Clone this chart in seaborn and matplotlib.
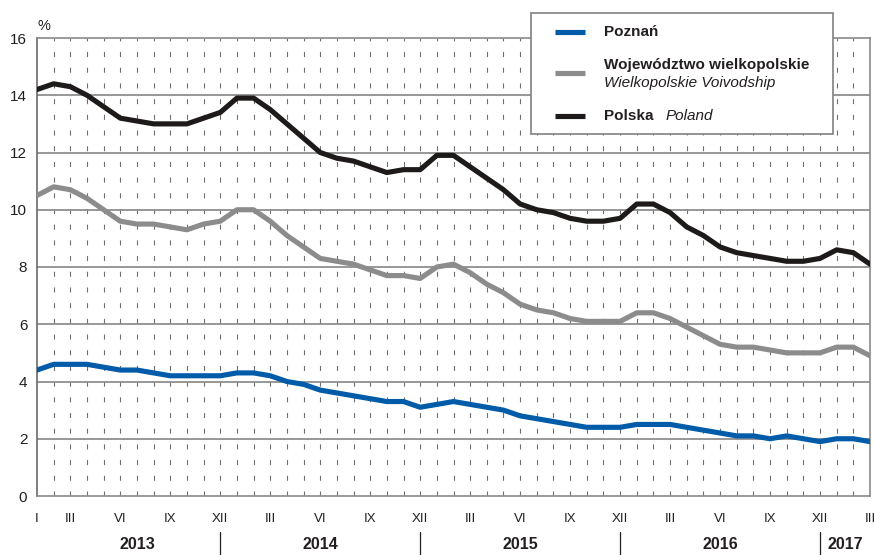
import numpy as np
import pandas as pd
import matplotlib
matplotlib.use("Agg")
import matplotlib.pyplot as plt
import matplotlib.transforms as mtransforms
from matplotlib.lines import Line2D
from matplotlib.patches import Rectangle
import seaborn as sns

# monthly values, I 2013 - III 2017 (%)
poznan = [4.4, 4.6, 4.6, 4.6, 4.5, 4.4, 4.4, 4.3, 4.2, 4.2, 4.2, 4.2,
          4.3, 4.3, 4.2, 4.0, 3.9, 3.7, 3.6, 3.5, 3.4, 3.3, 3.3, 3.1,
          3.2, 3.3, 3.2, 3.1, 3.0, 2.8, 2.7, 2.6, 2.5, 2.4, 2.4, 2.4,
          2.5, 2.5, 2.5, 2.4, 2.3, 2.2, 2.1, 2.1, 2.0, 2.1, 2.0, 1.9,
          2.0, 2.0, 1.9]
wielkopolskie = [10.5, 10.8, 10.7, 10.4, 10.0, 9.6, 9.5, 9.5, 9.4, 9.3, 9.5, 9.6,
                 10.0, 10.0, 9.6, 9.1, 8.7, 8.3, 8.2, 8.1, 7.9, 7.7, 7.7, 7.6,
                 8.0, 8.1, 7.8, 7.4, 7.1, 6.7, 6.5, 6.4, 6.2, 6.1, 6.1, 6.1,
                 6.4, 6.4, 6.2, 5.9, 5.6, 5.3, 5.2, 5.2, 5.1, 5.0, 5.0, 5.0,
                 5.2, 5.2, 4.9]
polska = [14.2, 14.4, 14.3, 14.0, 13.6, 13.2, 13.1, 13.0, 13.0, 13.0, 13.2, 13.4,
          13.9, 13.9, 13.5, 13.0, 12.5, 12.0, 11.8, 11.7, 11.5, 11.3, 11.4, 11.4,
          11.9, 11.9, 11.5, 11.1, 10.7, 10.2, 10.0, 9.9, 9.7, 9.6, 9.6, 9.7,
          10.2, 10.2, 9.9, 9.4, 9.1, 8.7, 8.5, 8.4, 8.3, 8.2, 8.2, 8.3,
          8.6, 8.5, 8.1]
years = ["2013", "2014", "2015", "2016", "2017"]
roman = ["I", "II", "III", "IV", "V", "VI", "VII", "VIII", "IX", "X", "XI", "XII"]

series_names = ["Poznań", "Województwo wielkopolskie", "Polska"]
colors = {"Poznań": "#005ba8", "Województwo wielkopolskie": "#8c8c8c", "Polska": "#1e1a1a"}

n = len(polska)
month = np.arange(n)
df = pd.concat([
    pd.DataFrame({"month": month, "value": poznan, "series": series_names[0]}),
    pd.DataFrame({"month": month, "value": wielkopolskie, "series": series_names[1]}),
    pd.DataFrame({"month": month, "value": polska, "series": series_names[2]}),
])

sns.set_style("white")
plt.rcParams["font.family"] = ["Liberation Sans Narrow", "Liberation Sans", "DejaVu Sans"]
plt.rcParams["lines.scale_dashes"] = False

W, H = 874, 555
fig = plt.figure(figsize=(W / 100, H / 100), dpi=100)
ax = fig.add_axes([37 / W, 1 - 496 / H, (870 - 37) / W, (496 - 38) / H])

def fx(px):
    return px / W

def fy(py):
    return 1 - py / H

# grid
for m in range(1, n - 1):
    ax.axvline(m, color="#6e6e6e", lw=0.8, linestyle=(0, (3.6, 7.7)), zorder=0)
for v in range(2, 16, 2):
    ax.axhline(v, color="#8f8f8f", lw=1.3, zorder=0)

sns.lineplot(data=df, x="month", y="value", hue="series", hue_order=series_names,
             palette=colors, linewidth=3.7, legend=False, ax=ax, zorder=3)

ax.set_xlim(0, n - 1)
ax.set_ylim(0, 16)
ax.set_xlabel("")
ax.set_ylabel("")
for s in ax.spines.values():
    s.set_color("#8a8a8a")
    s.set_linewidth(1.2)
ax.spines["left"].set_color("#6a6a6a")

ax.set_yticks(range(0, 17, 2))
ax.tick_params(axis="y", length=0, pad=7, labelsize=11, labelcolor="#231f20")

tick_pos = [0] + [m for m in range(n) if m % 12 in (2, 5, 8, 11)]
tick_lab = [roman[m % 12] for m in tick_pos]
ax.set_xticks(tick_pos)
ax.set_xticklabels(tick_lab)
ax.set_xticks(month, minor=True)
ax.tick_params(axis="x", which="both", length=6.5, width=0.8, color="#6e6e6e",
               direction="out", pad=6, labelsize=9.5, labelcolor="#231f20")

# year labels and separators
trans = mtransforms.blended_transform_factory(ax.transData, ax.transAxes)
for i, yr in enumerate(years):
    start = i * 12 - 1 if i > 0 else 0
    end = min(i * 12 + 11, n - 1)
    ax.text((start + end) / 2 + (0.5 if i == 0 else 0), -0.105, yr, transform=trans,
            ha="center", va="center", fontsize=11.5, fontweight="bold", color="#231f20")
for m in range(11, n - 1, 12):
    ax.plot([m, m], [-0.079, -0.13], transform=trans, color="#231f20", lw=0.9, clip_on=False)

fig.text(fx(38), fy(26), "%", fontsize=10.5, color="#231f20", va="center")

# legend box
fig.add_artist(Rectangle((fx(531), fy(134)), (833 - 531) / W, (134 - 13) / H,
                         transform=fig.transFigure, facecolor="white",
                         edgecolor="#808080", lw=1.2, zorder=5))
for name, py in zip(series_names, [32, 73, 116]):
    fig.add_artist(Line2D([fx(555), fx(585)], [fy(py), fy(py)], transform=fig.transFigure,
                          color=colors[name], lw=3.7, solid_capstyle="butt", zorder=6))
fig.text(fx(604), fy(32), "Poznań", fontsize=11, fontweight="bold", va="center",
         color="#231f20", zorder=6)
fig.text(fx(604), fy(65), "Województwo wielkopolskie", fontsize=11, fontweight="bold",
         va="center", color="#231f20", zorder=6)
fig.text(fx(604), fy(83), "Wielkopolskie Voivodship", fontsize=11, fontstyle="italic",
         va="center", color="#231f20", zorder=6)
fig.text(fx(604), fy(116), "Polska", fontsize=11, fontweight="bold", va="center",
         color="#231f20", zorder=6)
fig.text(fx(666), fy(116), "Poland", fontsize=11, fontstyle="italic", va="center",
         color="#231f20", zorder=6)

fig.savefig("out.png", dpi=100)
